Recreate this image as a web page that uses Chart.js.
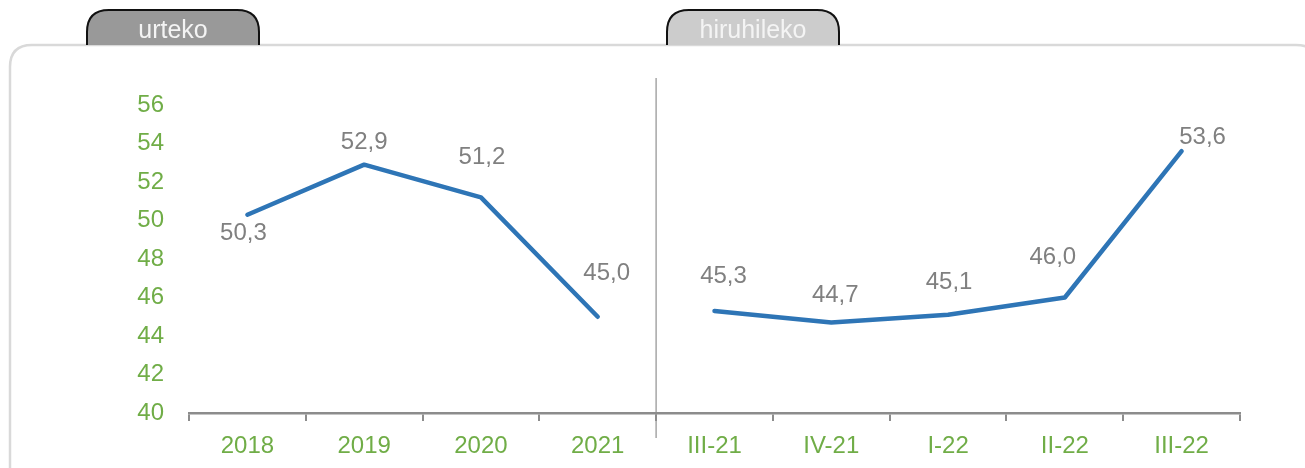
<!DOCTYPE html>
<html>
<head>
<meta charset="utf-8">
<script src="https://cdn.jsdelivr.net/npm/chart.js@4/dist/chart.umd.min.js"></script>
<style>
html,body{margin:0;padding:0;background:#fff;}
#wrap{position:relative;width:1305px;height:468px;}
</style>
</head>
<body>
<div id="wrap"><canvas id="c" width="1305" height="468"></canvas></div>
<script>
// ---- data ----
const annualLabels = ['2018', '2019', '2020', '2021'];
const annualValues = [50.3, 52.9, 51.2, 45.0];
const quarterLabels = ['III-21', 'IV-21', 'I-22', 'II-22', 'III-22'];
const quarterValues = [45.3, 44.7, 45.1, 46.0, 53.6];
const tabLabels = ['urteko', 'hiruhileko'];
const yMin = 40, yMax = 56, yStep = 2;

// ---- build ----
const categories = annualLabels.concat(quarterLabels);
const annualData = annualValues.concat(quarterLabels.map(() => null));
const quarterData = annualLabels.map(() => null).concat(quarterValues);

// label offsets (style only), per category index
const labelOffsets = [[-4, 19], [0, -22], [1, -40], [9, -43], [9, -35], [4, -27], [1, -32], [-12, -40], [21, -14]];

const GREEN = '#70AD47';
const LINE = '#2E75B6';
const FONT = "'Liberation Sans', Arial, sans-serif";

const framePlugin = {
  id: 'frame',
  beforeDraw(chart) {
    const ctx = chart.ctx;
    ctx.save();
    // outer rounded box
    ctx.strokeStyle = '#d9d9d9';
    ctx.lineWidth = 2.5;
    ctx.beginPath();
    const x0 = 10, y0 = 45, x1 = 1318, y1 = 500, r = 22;
    ctx.moveTo(x0, y1);
    ctx.lineTo(x0, y0 + r);
    ctx.quadraticCurveTo(x0, y0, x0 + r, y0);
    ctx.lineTo(x1 - r, y0);
    ctx.quadraticCurveTo(x1, y0, x1, y0 + r);
    ctx.stroke();
    // tabs
    const tabs = [{x: 87, w: 172, fill: '#999999', text: tabLabels[0]}, {x: 667, w: 172, fill: '#cccccc', text: tabLabels[1]}];
    tabs.forEach(t => {
      const tx = t.x, ty = 10, tw = t.w, tb = 45, tr = 22;
      const path = () => {
        ctx.beginPath();
        ctx.moveTo(tx, tb);
        ctx.lineTo(tx, ty + tr);
        ctx.quadraticCurveTo(tx, ty, tx + tr, ty);
        ctx.lineTo(tx + tw - tr, ty);
        ctx.quadraticCurveTo(tx + tw, ty, tx + tw, ty + tr);
        ctx.lineTo(tx + tw, tb);
      };
      path();
      ctx.closePath();
      ctx.fillStyle = t.fill;
      ctx.fill();
      path();
      ctx.strokeStyle = '#111';
      ctx.lineWidth = 2;
      ctx.stroke();
      ctx.fillStyle = '#f4f4f4';
      ctx.font = '25px ' + FONT;
      ctx.textAlign = 'center';
      ctx.textBaseline = 'middle';
      ctx.fillText(t.text, tx + tw / 2, 31);
    });
    // separator
    const xs = chart.scales.x;
    const sx = (xs.getPixelForValue(annualLabels.length - 1) + xs.getPixelForValue(annualLabels.length)) / 2;
    ctx.strokeStyle = '#a6a6a6';
    ctx.lineWidth = 1.5;
    ctx.beginPath();
    ctx.moveTo(sx, 78);
    ctx.lineTo(sx, 438);
    ctx.stroke();
    ctx.restore();
  }
};

const labelPlugin = {
  id: 'vlabels',
  afterDatasetsDraw(chart) {
    const ctx = chart.ctx;
    ctx.save();
    ctx.fillStyle = '#808080';
    ctx.font = '24px ' + FONT;
    ctx.textAlign = 'center';
    ctx.textBaseline = 'middle';
    chart.data.datasets.forEach((ds, di) => {
      const meta = chart.getDatasetMeta(di);
      ds.data.forEach((v, i) => {
        if (v === null) return;
        const p = meta.data[i];
        const o = labelOffsets[i];
        ctx.fillText(v.toFixed(1).replace('.', ','), p.x + o[0], p.y + o[1]);
      });
    });
    ctx.restore();
  }
};

const dsStyle = {
  borderColor: LINE,
  borderWidth: 4.5,
  pointRadius: 0,
  tension: 0,
  fill: false,
  borderCapStyle: 'round',
  borderJoinStyle: 'round',
  spanGaps: false
};

new Chart(document.getElementById('c'), {
  type: 'line',
  data: {
    labels: categories,
    datasets: [
      Object.assign({data: annualData}, dsStyle),
      Object.assign({data: quarterData}, dsStyle)
    ]
  },
  options: {
    responsive: false,
    animation: false,
    layout: {padding: {left: 0, right: 65, top: 105, bottom: 0}},
    plugins: {legend: {display: false}, tooltip: {enabled: false}},
    scales: {
      x: {
        offset: true,
        grid: {offset: true, drawOnChartArea: false, drawTicks: true, tickLength: 8, color: '#8c8c8c', lineWidth: 2},
        border: {display: true, color: '#8c8c8c', width: 2.5},
        ticks: {color: GREEN, font: {family: FONT, size: 24}, padding: 11, maxRotation: 0, autoSkip: false},
        afterFit(s) { s.height = 55; }
      },
      y: {
        min: yMin, max: yMax,
        grid: {display: false, drawTicks: false},
        border: {display: false},
        ticks: {stepSize: yStep, color: GREEN, font: {family: FONT, size: 24}, padding: 25},
        afterFit(s) { s.width = 189; }
      }
    }
  },
  plugins: [framePlugin, labelPlugin]
});
</script>
</body>
</html>
